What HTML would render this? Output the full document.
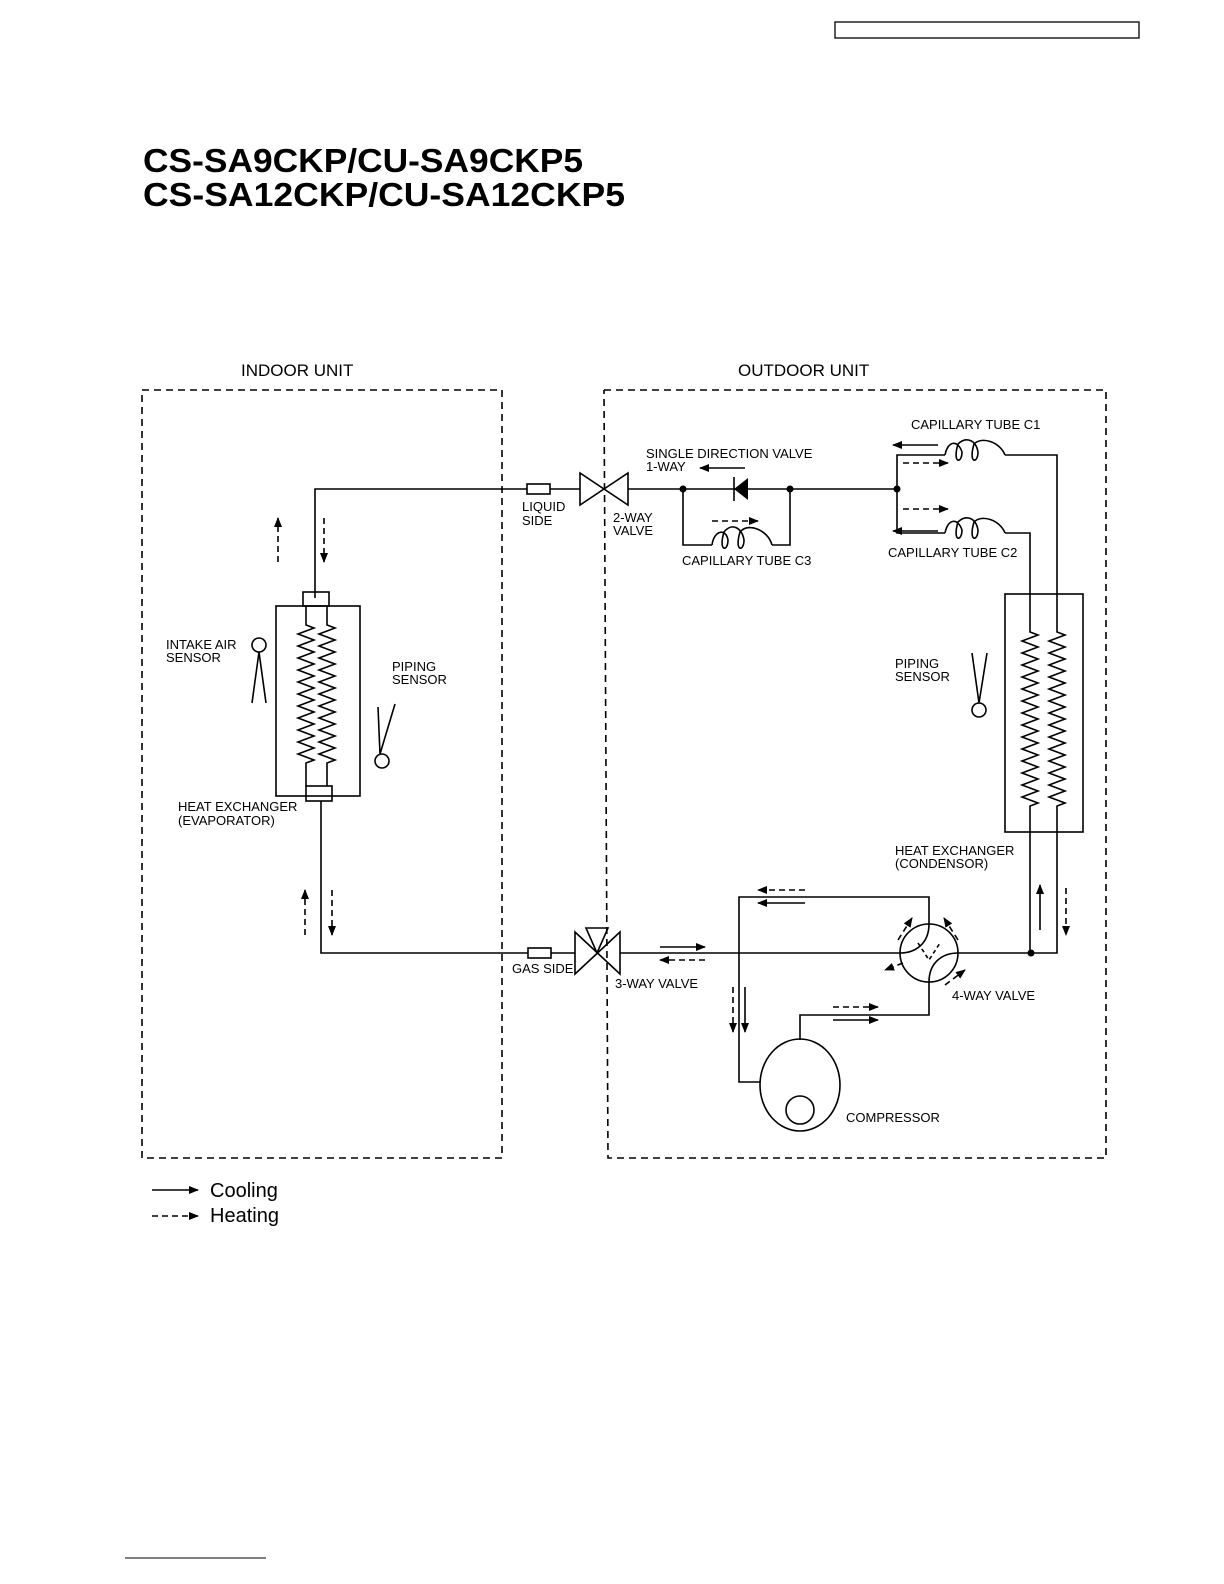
<!DOCTYPE html>
<html><head><meta charset="utf-8"><style>
html,body{margin:0;padding:0;background:#fff;}
svg{display:block;}
text{font-family:"Liberation Sans",sans-serif;fill:#000;}
.s{font-size:13px;}
</style></head><body>
<svg width="1224" height="1584" viewBox="0 0 1224 1584" xmlns="http://www.w3.org/2000/svg">
<defs>
<marker id="ah" markerWidth="10" markerHeight="8" refX="9" refY="4" orient="auto" markerUnits="userSpaceOnUse"><path d="M0,0 L10,4 L0,8 z" fill="#000"/></marker>
</defs>
<rect x="835" y="22" width="304" height="16" fill="none" stroke="#000" stroke-width="1.3"/>
<line x1="125" y1="1558" x2="266" y2="1558" stroke="#000" stroke-width="1"/>
<text x="143" y="172" font-size="33" font-weight="bold" textLength="440" lengthAdjust="spacingAndGlyphs">CS-SA9CKP/CU-SA9CKP5</text>
<text x="143" y="206" font-size="33" font-weight="bold" textLength="482" lengthAdjust="spacingAndGlyphs">CS-SA12CKP/CU-SA12CKP5</text>
<text x="241" y="376" font-size="17">INDOOR UNIT</text>
<text x="738" y="376" font-size="17">OUTDOOR UNIT</text>
<g fill="none" stroke="#000" stroke-width="1.6" stroke-dasharray="7,5">
<rect x="142" y="390" width="360" height="768"/>
<path d="M604,390 L1106,390 L1106,1158 L608,1158 L604,390"/>
</g>
<g fill="none" stroke="#000" stroke-width="1.6">
<!-- liquid line -->
<path d="M315,598 L315,489 L527,489"/>
<rect x="527" y="484" width="23" height="10"/>
<path d="M550,489 L580,489"/>
<path d="M580,473 L580,505 L628,473 L628,505 Z"/>
<path d="M628,489 L897,489"/>
<path d="M683,489 L683,545 L712,545 M772,545 L790,545 L790,489"/>
<path d="M712,545 C714,530 726,528 728,540 C728,552 718,552 724,532 C732,522 742,528 744,540 C744,552 734,552 740,532 C748,522 768,530 772,545"/>
<line x1="734" y1="477" x2="734" y2="501"/>
<!-- C1 / C2 -->
<path d="M897,489 L897,455 L945,455 M1005,455 L1057,455 L1057,625"/>
<path d="M897,489 L897,533 L945,533 M1005,533 L1030,533 L1030,625"/>
<path d="M945,455 C948,440 958,440 962,452 C962,464 952,464 958,444 C966,436 976,440 978,452 C978,464 968,464 974,444 C982,436 1000,442 1005,455"/>
<path d="M945,533 C948,518 958,518 962,530 C962,542 952,542 958,522 C966,514 976,518 978,530 C978,542 968,542 974,522 C982,514 1000,520 1005,533"/>
<!-- condenser -->
<rect x="1005" y="594" width="78" height="238"/>
<path d="M1030,625 L1030,632 l8 3 l-16 6 l16 6 l-16 6 l16 6 l-16 6 l16 6 l-16 6 l16 6 l-16 6 l16 6 l-16 6 l16 6 l-16 6 l16 6 l-16 6 l16 6 l-16 6 l16 6 l-16 6 l16 6 l-16 6 l16 6 l-16 6 l16 6 l-16 6 l16 6 l-16 6 l16 6 l-8 3 L1030,953"/>
<path d="M1057,625 L1057,632 l8 3 l-16 6 l16 6 l-16 6 l16 6 l-16 6 l16 6 l-16 6 l16 6 l-16 6 l16 6 l-16 6 l16 6 l-16 6 l16 6 l-16 6 l16 6 l-16 6 l16 6 l-16 6 l16 6 l-16 6 l16 6 l-16 6 l16 6 l-16 6 l16 6 l-16 6 l16 6 l-8 3 L1057,953 L958,953"/>
<!-- indoor HX -->
<rect x="276" y="606" width="84" height="190"/>
<rect x="303" y="592" width="26" height="14"/>
<rect x="306" y="786" width="26" height="15"/>
<path d="M306,606 L306,625 l8 3 l-16 6 l16 6 l-16 6 l16 6 l-16 6 l16 6 l-16 6 l16 6 l-16 6 l16 6 l-16 6 l16 6 l-16 6 l16 6 l-16 6 l16 6 l-16 6 l16 6 l-16 6 l16 6 l-16 6 l16 6 l-8 3 L306,786"/>
<path d="M327,606 L327,625 l8 3 l-16 6 l16 6 l-16 6 l16 6 l-16 6 l16 6 l-16 6 l16 6 l-16 6 l16 6 l-16 6 l16 6 l-16 6 l16 6 l-16 6 l16 6 l-16 6 l16 6 l-16 6 l16 6 l-16 6 l16 6 l-8 3 L327,786"/>
<!-- gas line -->
<path d="M321,801 L321,953 L528,953"/>
<rect x="528" y="948" width="23" height="10"/>
<path d="M551,953 L575,953"/>
<path d="M575,932 L575,974 L620,932 L620,974 Z"/>
<path d="M586,928 L608,928 L597,953 Z"/>
<path d="M620,953 L900,953"/>
<!-- 4-way valve -->
<circle cx="929" cy="953" r="29"/>
<path d="M929,924 L929,897 L739,897 L739,1082 L760,1082"/>
<path d="M800,1040 L800,1015 L929,1015 L929,982"/>
<path d="M929,924 C929,944 915,953 900,953 M929,982 C929,962 943,953 958,953"/>
<path d="M918,943 L929,960 L940,943" stroke-dasharray="4,3"/>
<!-- compressor -->
<ellipse cx="800" cy="1085" rx="40" ry="46"/>
<circle cx="800" cy="1110" r="14"/>
<!-- sensors -->
<circle cx="259" cy="645" r="7"/>
<path d="M252,703 L259,652 L266,703"/>
<circle cx="382" cy="761" r="7"/>
<path d="M378,707 L380,754 L395,704"/>
<circle cx="979" cy="710" r="7"/>
<path d="M972,653 L979,703 L987,653"/>
</g>
<path d="M748,478 L748,500 L734,489 Z" fill="#000"/>
<g fill="#000">
<circle cx="683" cy="489" r="3.5"/><circle cx="790" cy="489" r="3.5"/><circle cx="897" cy="489" r="3.5"/><circle cx="1031" cy="953" r="3.5"/>
</g>
<!-- arrows -->
<g stroke="#000" stroke-width="1.6" marker-end="url(#ah)">
<line x1="745" y1="468" x2="700" y2="468"/>
<line x1="938" y1="445" x2="893" y2="445"/>
<line x1="938" y1="531" x2="893" y2="531"/>
<line x1="660" y1="947" x2="705" y2="947"/>
<line x1="805" y1="903" x2="758" y2="903"/>
<line x1="745" y1="987" x2="745" y2="1032"/>
<line x1="833" y1="1020" x2="878" y2="1020"/>
<line x1="1040" y1="930" x2="1040" y2="885"/>
<line x1="152" y1="1190" x2="198" y2="1190"/>
</g>
<g stroke="#000" stroke-width="1.6" stroke-dasharray="6,4" marker-end="url(#ah)">
<line x1="278" y1="562" x2="278" y2="518"/>
<line x1="324" y1="518" x2="324" y2="562"/>
<line x1="305" y1="935" x2="305" y2="890"/>
<line x1="332" y1="890" x2="332" y2="935"/>
<line x1="712" y1="521" x2="758" y2="521"/>
<line x1="903" y1="463" x2="948" y2="463"/>
<line x1="903" y1="509" x2="948" y2="509"/>
<line x1="705" y1="960" x2="660" y2="960"/>
<line x1="805" y1="890" x2="758" y2="890"/>
<line x1="733" y1="987" x2="733" y2="1032"/>
<line x1="833" y1="1007" x2="878" y2="1007"/>
<line x1="1066" y1="888" x2="1066" y2="935"/>
<line x1="152" y1="1216" x2="198" y2="1216"/>
<line x1="898" y1="940" x2="912" y2="918"/>
<line x1="958" y1="940" x2="944" y2="918"/>
<line x1="903" y1="963" x2="885" y2="970"/>
<line x1="945" y1="985" x2="965" y2="970"/>
</g>
<g class="s">
<text x="522" y="511" font-size="13">LIQUID</text>
<text x="522" y="525" font-size="13">SIDE</text>
<text x="613" y="522" font-size="13">2-WAY</text>
<text x="613" y="535" font-size="13">VALVE</text>
<text x="646" y="458" font-size="13">SINGLE DIRECTION VALVE</text>
<text x="646" y="471" font-size="13">1-WAY</text>
<text x="682" y="565" font-size="13">CAPILLARY TUBE C3</text>
<text x="911" y="429" font-size="13">CAPILLARY TUBE C1</text>
<text x="888" y="557" font-size="13">CAPILLARY TUBE C2</text>
<text x="166" y="649" font-size="13">INTAKE AIR</text>
<text x="166" y="662" font-size="13">SENSOR</text>
<text x="392" y="671" font-size="13">PIPING</text>
<text x="392" y="684" font-size="13">SENSOR</text>
<text x="178" y="811" font-size="13">HEAT EXCHANGER</text>
<text x="178" y="825" font-size="13">(EVAPORATOR)</text>
<text x="895" y="668" font-size="13">PIPING</text>
<text x="895" y="681" font-size="13">SENSOR</text>
<text x="895" y="855" font-size="13">HEAT EXCHANGER</text>
<text x="895" y="868" font-size="13">(CONDENSOR)</text>
<text x="512" y="973" font-size="13">GAS SIDE</text>
<text x="615" y="988" font-size="13">3-WAY VALVE</text>
<text x="952" y="1000" font-size="13">4-WAY VALVE</text>
<text x="846" y="1122" font-size="13">COMPRESSOR</text>
</g>
<text x="210" y="1197" font-size="20">Cooling</text>
<text x="210" y="1222" font-size="20">Heating</text>
</svg>
</body></html>
